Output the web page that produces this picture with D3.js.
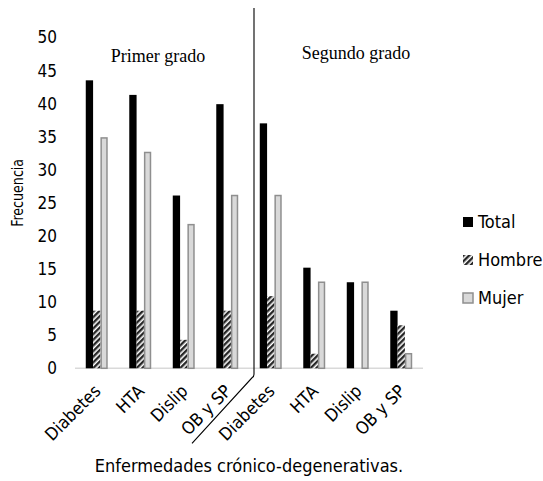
<!DOCTYPE html>
<html>
<head>
<meta charset="utf-8">
<script src="https://cdn.jsdelivr.net/npm/d3@7"></script>
<style>
  html, body { margin: 0; padding: 0; background: #fff; }
  svg { display: block; }
  .sans { font-family: "DejaVu Sans", Verdana, sans-serif; font-stretch: condensed; fill: #000; }
  .serif { font-family: "Liberation Serif", "Times New Roman", serif; fill: #000; }
</style>
</head>
<body>
<svg id="chart" width="543" height="481"></svg>
<script>
// Frecuencia (%) por enfermedad y grado de parentesco
const categories = ["Diabetes", "HTA", "Dislip", "OB y SP", "Diabetes", "HTA", "Dislip", "OB y SP"];
const total  = [43.5, 41.3, 26.1, 39.9, 37.0, 15.2, 13.0, 8.7];
const hombre = [8.7, 8.7, 4.3, 8.7, 10.9, 2.2, 0, 6.5];
const mujer  = [34.8, 32.6, 21.7, 26.1, 26.1, 13.0, 13.0, 2.2];
const seriesNames = ["Total", "Hombre", "Mujer"];
const yTicks = [0, 5, 10, 15, 20, 25, 30, 35, 40, 45, 50];
const groupLabels = ["Primer grado", "Segundo grado"];

const svg = d3.select("#chart");
const plot = { left: 75, right: 423, top: 37.3, bottom: 368.3 };

const x = d3.scaleBand()
  .domain(d3.range(categories.length))
  .range([plot.left, plot.right])
  .padding(0);

const groupW = x.bandwidth() * 0.505;
const xs = d3.scaleBand()
  .domain(seriesNames)
  .range([(x.bandwidth() - groupW) / 2, (x.bandwidth() + groupW) / 2])
  .padding(0);

const y = d3.scaleLinear().domain([0, 50]).range([plot.bottom, plot.top]);

// diagonal hatch used for "Hombre"
const defs = svg.append("defs");
const pat = defs.append("pattern")
  .attr("id", "hatch")
  .attr("patternUnits", "userSpaceOnUse")
  .attr("width", 4).attr("height", 4)
  .attr("patternTransform", "rotate(45)");
pat.append("rect").attr("width", 4).attr("height", 4).attr("fill", "#fff");
pat.append("rect").attr("width", 2.4).attr("height", 4).attr("fill", "#262626");

const fills = { Total: "#000", Hombre: "url(#hatch)", Mujer: "#d9d9d9" };
const strokes = { Total: "none", Hombre: "none", Mujer: "#8f8f8f" };

// category axis baseline
svg.append("line")
  .attr("x1", plot.left).attr("x2", plot.right)
  .attr("y1", y(0)).attr("y2", y(0))
  .attr("stroke", "#d9d9d9").attr("stroke-width", 1.5);

// y tick labels
svg.append("g")
  .selectAll("text")
  .data(yTicks)
  .join("text")
  .attr("class", "sans")
  .attr("x", 57)
  .attr("y", d => y(d))
  .attr("dy", "0.36em")
  .attr("text-anchor", "end")
  .attr("font-size", 17)
  .text(d => d);

// bars
const rows = categories.map((c, i) => ({ i, values: [
  { s: "Total", v: total[i] },
  { s: "Hombre", v: hombre[i] },
  { s: "Mujer", v: mujer[i] }
]}));

svg.append("g")
  .selectAll("g")
  .data(rows)
  .join("g")
  .attr("transform", d => `translate(${x(d.i)},0)`)
  .selectAll("rect")
  .data(d => d.values.filter(v => v.v > 0))
  .join("rect")
  .attr("x", d => xs(d.s) + (d.s === "Mujer" ? 0.75 : 0))
  .attr("width", d => xs.bandwidth() - (d.s === "Mujer" ? 1.5 : 0))
  .attr("y", d => y(d.v))
  .attr("height", d => y(0) - y(d.v))
  .attr("fill", d => fills[d.s])
  .attr("stroke", d => strokes[d.s])
  .attr("stroke-width", 1.5);

// category labels, rotated
svg.append("g")
  .selectAll("text")
  .data(categories)
  .join("text")
  .attr("class", "sans")
  .attr("font-size", 17.5)
  .attr("text-anchor", "end")
  .attr("transform", (d, i) => `translate(${x(i) + x.bandwidth() / 2 + 5},${y(0) + 24}) rotate(-45)`)
  .text(d => d);

// separator between first and second degree
const sepX = x(4) + 5;
svg.append("path")
  .attr("d", `M${sepX},8 L${sepX},${y(0) + 6} Q${sepX},${y(0) + 8.5} ${sepX - 2},${y(0) + 9.5} L${sepX - 62},${y(0) + 75}`)
  .attr("fill", "none")
  .attr("stroke", "#000")
  .attr("stroke-width", 1.1);

// group titles
svg.append("text").attr("class", "serif").attr("font-size", 18)
  .attr("x", 158).attr("y", 62).attr("text-anchor", "middle").text(groupLabels[0]);
svg.append("text").attr("class", "serif").attr("font-size", 18)
  .attr("x", 356).attr("y", 59).attr("text-anchor", "middle").text(groupLabels[1]);

// axis titles
svg.append("text").attr("class", "sans").attr("font-size", 16)
  .attr("text-anchor", "middle")
  .attr("textLength", 68)
  .attr("lengthAdjust", "spacingAndGlyphs")
  .attr("transform", `translate(23,${y(26.5)}) rotate(-90)`)
  .text("Frecuencia");
svg.append("text").attr("class", "sans").attr("font-size", 18)
  .attr("text-anchor", "middle")
  .attr("x", 249).attr("y", 472)
  .text("Enfermedades crónico-degenerativas.");

// legend
const legend = svg.append("g")
  .selectAll("g")
  .data(seriesNames)
  .join("g")
  .attr("transform", (d, i) => `translate(463,${222 + i * 38})`);
legend.append("rect")
  .attr("x", 0).attr("y", -5).attr("width", 10).attr("height", 10)
  .attr("fill", d => fills[d])
  .attr("stroke", d => strokes[d])
  .attr("stroke-width", 1.5);
legend.append("text")
  .attr("class", "sans")
  .attr("font-size", 18)
  .attr("x", 15).attr("y", 0).attr("dy", "0.36em")
  .text(d => d);
</script>
</body>
</html>
